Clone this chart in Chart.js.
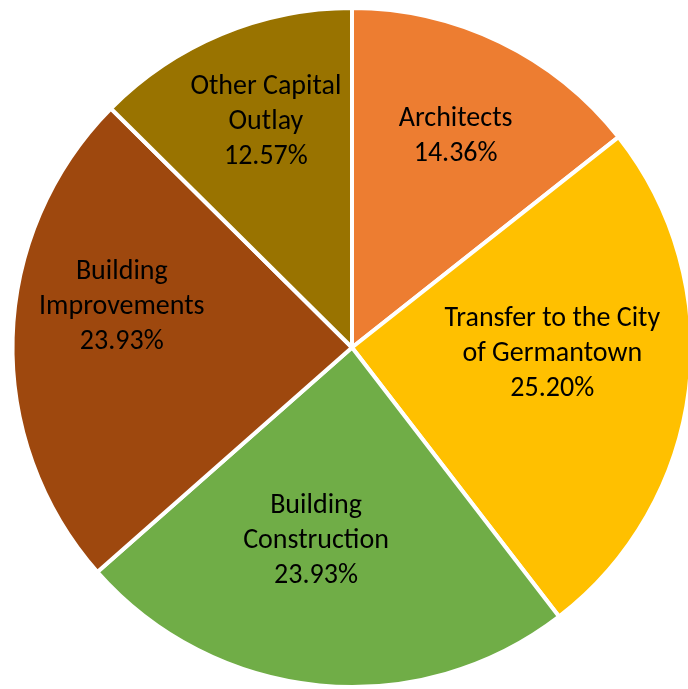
<!DOCTYPE html>
<html><head><meta charset="utf-8">
<script src="https://cdn.jsdelivr.net/npm/chart.js@4/dist/chart.umd.min.js"></script>
<style>
html,body{margin:0;padding:0;background:#fff;overflow:hidden;width:688px;height:689px}
#wrap{position:absolute;left:0;top:0;width:704px;height:689px}
</style></head>
<body>
<div id="wrap"><canvas id="c" width="704" height="689"></canvas></div>
<script>
const categories = ["Architects", "Transfer to the City of Germantown", "Building Construction", "Building Improvements", "Other Capital Outlay"];
const labelLines = [["Architects"], ["Transfer to the City", "of Germantown"], ["Building", "Construction"], ["Building", "Improvements"], ["Other Capital", "Outlay"]];
const values = [14.36, 25.20, 23.93, 23.93, 12.57];
const percentLabels = ["14.36%", "25.20%", "23.93%", "23.93%", "12.57%"];
const colors = ["#ED7D31", "#FFC000", "#70AD47", "#9E480E", "#997300"];
// label placement style: [radius fraction, angle offset in degrees]
const labelPlace = [[0.70, 0], [0.59, -6], [0.57, 5.2], [0.69, 9], [0.72, 2]];

const labelPlugin = {
  id: 'sliceLabels',
  afterDatasetsDraw(chart) {
    const ctx = chart.ctx;
    const meta = chart.getDatasetMeta(0);
    ctx.save();
    ctx.font = '28px Carlito, Calibri, Lato, sans-serif';
    ctx.fillStyle = '#000';
    ctx.textAlign = 'center';
    ctx.textBaseline = 'middle';
    const lh = 35;
    meta.data.forEach((arc, i) => {
      const p = arc.getProps(['x','y','startAngle','endAngle','outerRadius'], true);
      const mid = (p.startAngle + p.endAngle) / 2 + labelPlace[i][1] * Math.PI / 180;
      const r = p.outerRadius * labelPlace[i][0];
      const cx = p.x + Math.cos(mid) * r;
      const cy = p.y + Math.sin(mid) * r + 3;
      const lines = labelLines[i].concat([percentLabels[i]]);
      const y0 = cy - (lines.length - 1) * lh / 2;
      lines.forEach((t, k) => ctx.fillText(t, cx, y0 + k * lh));
    });
    ctx.restore();
  }
};

new Chart(document.getElementById('c'), {
  type: 'pie',
  data: {
    labels: categories,
    datasets: [{
      data: values,
      backgroundColor: colors,
      borderColor: '#ffffff',
      borderWidth: 4,
      borderAlign: 'center'
    }]
  },
  options: {
    responsive: false,
    animation: false,
    devicePixelRatio: 1,
    layout: { padding: { left: 10, right: 10, top: 6, bottom: -1 } },
    plugins: { legend: { display: false }, tooltip: { enabled: false } }
  },
  plugins: [labelPlugin]
});
</script>
</body></html>
